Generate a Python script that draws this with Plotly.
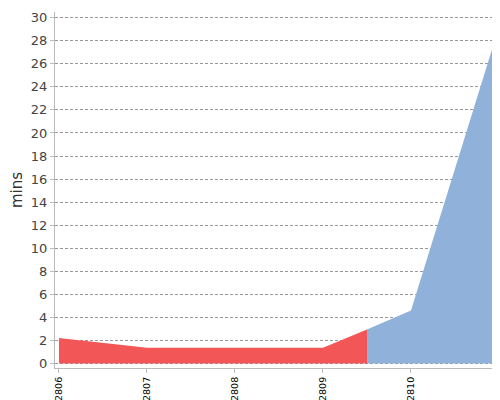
import plotly.graph_objects as go

builds = ["#2806", "#2807", "#2808", "#2809", "#2810", "#2811"]
red_x = [0, 1, 2, 3, 3.5]
red_y = [2.2, 1.35, 1.35, 1.35, 2.95]
blue_x = [3.5, 4, 5]
blue_y = [2.95, 4.6, 29.2]

fig = go.Figure()
fig.add_trace(go.Scatter(x=red_x, y=red_y, mode="lines", line=dict(width=0),
                         fill="tozeroy", fillcolor="#f25656", hoverinfo="skip"))
fig.add_trace(go.Scatter(x=blue_x, y=blue_y, mode="lines", line=dict(width=0),
                         fill="tozeroy", fillcolor="#8fb1da", hoverinfo="skip"))
fig.update_layout(
    width=500, height=400, showlegend=False,
    plot_bgcolor="white", paper_bgcolor="white",
    margin=dict(l=47, r=9, t=4, b=40),
    font=dict(family="DejaVu Sans"),
    xaxis=dict(range=[-0.045, 5], tickvals=list(range(6)), ticktext=builds,
               tickangle=-90, tickfont=dict(size=9.5, color="black"),
               automargin=False,
               showgrid=False, zeroline=False, showline=True, linecolor="#bbbbbb",
               ticks="outside", ticklen=4, tickcolor="#bbbbbb"),
    yaxis=dict(range=[-0.4, 30.5], dtick=2, tickfont=dict(size=13, color="#444"),
               automargin=False,
               showgrid=True, gridcolor="#999", griddash="3px,2px", gridwidth=0.8,
               zeroline=False, showline=True, linecolor="#bbbbbb",
               ticks="outside", ticklen=4, tickcolor="#bbbbbb",
               title=dict(text="mins", font=dict(size=15, color="#333"), standoff=4)),
)
fig.write_html("out.html")
